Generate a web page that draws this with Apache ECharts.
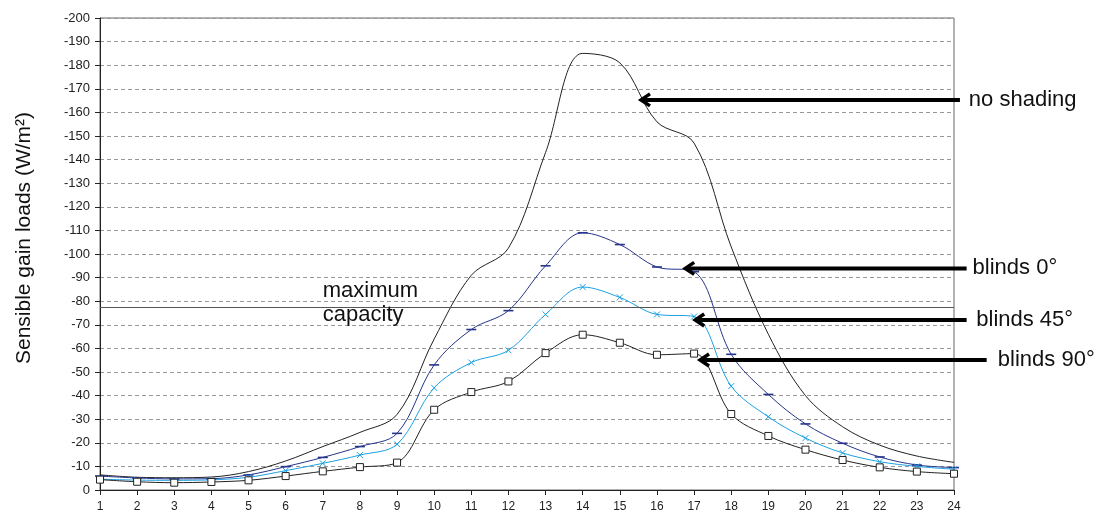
<!DOCTYPE html>
<html>
<head>
<meta charset="utf-8">
<script src="https://cdn.jsdelivr.net/npm/echarts@6/dist/echarts.min.js"></script>
<style>
html,body{margin:0;padding:0;background:#fff;}
#chart{width:1101px;height:519px;}
</style>
</head>
<body>
<div id="chart"></div>
<script>
// ---- data ----
const hours = [1,2,3,4,5,6,7,8,9,10,11,12,13,14,15,16,17,18,19,20,21,22,23,24];
const noShading = [-6.4,-5.4,-5.2,-5.5,-7.8,-12.3,-18.4,-24.4,-32,-64,-91,-102.5,-143,-185,-181,-156,-147,-103,-66,-40,-26.8,-19,-14.4,-11.7];
const blinds0  = [-5.9,-5.1,-4.7,-4.8,-6.4,-9.9,-13.8,-18.4,-24,-53,-68,-76,-95,-109,-104,-94.5,-92.5,-57.5,-40.5,-28,-19.8,-14,-10.6,-9.5];
const blinds45 = [-4.6,-4.2,-4.1,-4.3,-5.4,-8.2,-11.3,-14.8,-19.4,-43.3,-54,-59.2,-74.4,-86,-81.6,-74.4,-73.5,-44,-31,-22,-15.7,-12,-10,-8.8];
const blinds90 = [-4.4,-3.5,-3.1,-3.4,-4.1,-5.9,-7.9,-9.7,-11.6,-34,-41.5,-46,-58,-65.8,-62.4,-57.3,-57.8,-32.2,-22.9,-17.1,-12.7,-9.6,-7.8,-6.9];
const maxCapacity = -77.5;
const yTitle = 'Sensible gain loads (W/m\u00b2)';
const capacityLabel = ['maximum', 'capacity'];
// annotation: label, arrow head [hour, value], arrow tail hour, text hour
const annotations = [
  {label: 'no shading', head: [15.57, -165.3], tail: 24.16, text: 24.4},
  {label: 'blinds 0\u00b0', head: [16.76, -93.9], tail: 24.34, text: 24.5},
  {label: 'blinds 45\u00b0', head: [17.03, -72.0], tail: 24.34, text: 24.6},
  {label: 'blinds 90\u00b0', head: [17.16, -55.1], tail: 24.88, text: 25.18}
];

const FONT = '"Liberation Sans", Arial, sans-serif';
const SMOOTH = 0.35;
const pair = arr => hours.map((h, i) => [h, arr[i]]);

const chart = echarts.init(document.getElementById('chart'), null, {renderer: 'canvas'});
chart.setOption({
  animation: false,
  backgroundColor: '#fff',
  grid: {left: 100, right: 147, top: 18, bottom: 29, show: true, borderColor: '#666', borderWidth: 1, backgroundColor: 'transparent'},
  xAxis: {
    type: 'value', min: 1, max: 24, interval: 1,
    axisLine: {onZero: false, lineStyle: {color: '#222', width: 1}},
    axisTick: {show: true, length: 5, lineStyle: {color: '#222'}},
    axisLabel: {color: '#222', fontSize: 12, fontFamily: FONT, margin: 11},
    splitLine: {show: false}
  },
  yAxis: {
    type: 'value', min: -200, max: 0, interval: 10, inverse: true,
    axisLine: {show: true, onZero: false, lineStyle: {color: '#222', width: 1}},
    axisTick: {show: true, length: 5, lineStyle: {color: '#222'}},
    axisLabel: {color: '#222', fontSize: 13, fontFamily: FONT, margin: 10},
    splitLine: {show: true, lineStyle: {color: '#999', type: [4, 3], width: 1}}
  },
  series: [
    {
      name: 'no shading', type: 'line', data: pair(noShading), smooth: SMOOTH,
      showSymbol: false, symbol: 'none',
      lineStyle: {color: '#222', width: 1},
      markLine: {
        silent: true, symbol: 'none', label: {show: false},
        lineStyle: {color: '#555', type: 'solid', width: 1},
        data: [{yAxis: maxCapacity}]
      }
    },
    {
      name: 'blinds 0', type: 'line', data: pair(blinds0), smooth: SMOOTH,
      symbol: 'rect', symbolSize: [10, 1.6],
      itemStyle: {color: '#27348b'},
      lineStyle: {color: '#27348b', width: 1}
    },
    {
      name: 'blinds 45', type: 'line', data: pair(blinds45), smooth: SMOOTH,
      symbol: 'path://M0,0L10,10M10,0L0,10', symbolSize: 6,
      itemStyle: {color: 'none', borderColor: '#1ba1e2', borderWidth: 1},
      lineStyle: {color: '#1ba1e2', width: 1}
    },
    {
      name: 'blinds 90', type: 'line', data: pair(blinds90), smooth: SMOOTH,
      symbol: 'rect', symbolSize: 7,
      itemStyle: {color: '#fff', borderColor: '#222', borderWidth: 1},
      lineStyle: {color: '#222', width: 1}
    }
  ]
});

// annotations positioned through the chart's own coordinate system
const px = (x, y) => chart.convertToPixel({gridIndex: 0}, [x, y]);
const graphics = [];
annotations.forEach(a => {
  const head = px(a.head[0], a.head[1]);
  const tail = px(a.tail, a.head[1]);
  const txt = px(a.text, a.head[1]);
  graphics.push({
    type: 'line', silent: true, z: 100,
    shape: {x1: head[0] + 2, y1: head[1], x2: tail[0], y2: tail[1]},
    style: {stroke: '#000', lineWidth: 4}
  });
  graphics.push({
    type: 'polyline', silent: true, z: 100,
    shape: {points: [[head[0] + 9, head[1] - 6], [head[0], head[1]], [head[0] + 9, head[1] + 6]]},
    style: {stroke: '#000', lineWidth: 3.5, fill: 'none', lineJoin: 'miter'}
  });
  graphics.push({
    type: 'text', silent: true, z: 100,
    style: {text: a.label, x: txt[0], y: txt[1], fill: '#111', font: '22px ' + FONT, align: 'left', verticalAlign: 'middle'}
  });
});
// maximum capacity label
const capPos = px(7.0, maxCapacity);
graphics.push({
  type: 'text', silent: true, z: 100,
  style: {text: capacityLabel[0], x: capPos[0], y: capPos[1] - 5, fill: '#111', font: '22px ' + FONT, align: 'left', verticalAlign: 'bottom'}
});
graphics.push({
  type: 'text', silent: true, z: 100,
  style: {text: capacityLabel[1], x: capPos[0], y: capPos[1] + 19, fill: '#111', font: '22px ' + FONT, align: 'left', verticalAlign: 'bottom'}
});
// y axis title
graphics.push({
  type: 'text', silent: true, z: 100,
  x: 24, y: 238, rotation: Math.PI / 2,
  style: {text: yTitle, x: 0, y: 0, fill: '#111', font: '21px ' + FONT, align: 'center', verticalAlign: 'middle'}
});
chart.setOption({graphic: graphics});
</script>
</body>
</html>
